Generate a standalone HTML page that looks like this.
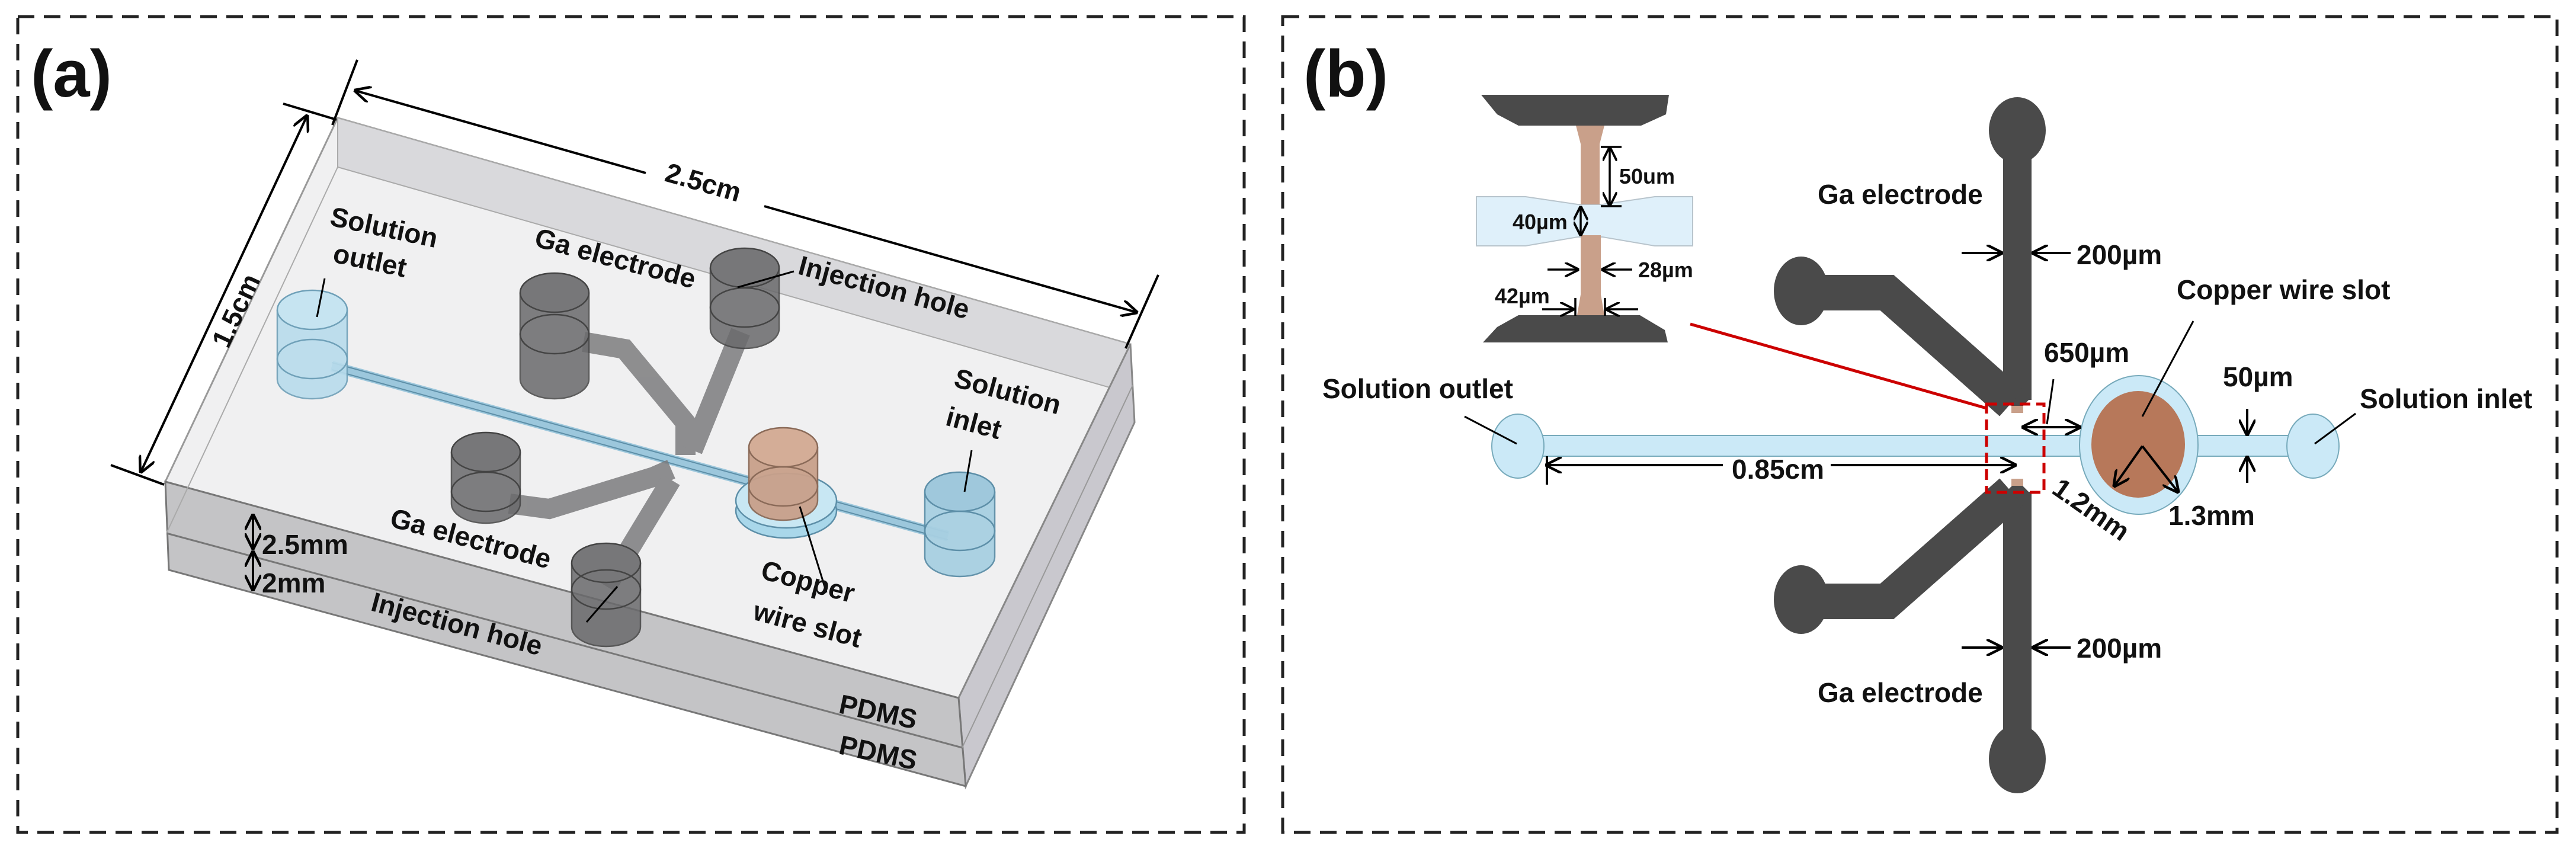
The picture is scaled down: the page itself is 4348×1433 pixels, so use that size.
<!DOCTYPE html>
<html><head><meta charset="utf-8"><style>
html,body{margin:0;padding:0;background:#fff}
svg{display:block}
text{font-family:"Liberation Sans Narrow","Liberation Sans",sans-serif;font-weight:bold;fill:#111}
</style></head><body>
<svg width="4348" height="1433" viewBox="0 0 4348 1433" xmlns="http://www.w3.org/2000/svg">
<defs>
<marker id="ar" viewBox="0 0 10 10" refX="9" refY="5" markerWidth="7" markerHeight="7" orient="auto-start-reverse"><path d="M0,0 L10,5 L0,10" fill="none" stroke="#000" stroke-width="1.6"/></marker>
</defs>
<rect x="30" y="28" width="2070" height="1377" fill="none" stroke="#222" stroke-width="5" stroke-dasharray="28,16"/>
<rect x="2165" y="28" width="2151" height="1377" fill="none" stroke="#222" stroke-width="5" stroke-dasharray="28,16"/>
<text x="52" y="163" font-size="112" font-family="Liberation Sans">(a)</text>
<text x="2200" y="163" font-size="112" font-family="Liberation Sans">(b)</text>

<!-- ===== Panel a box ===== -->
<polygon points="570,199 1908,581 1618,1178 279,813" fill="#f0f0f1" stroke="#999" stroke-width="3"/>
<polygon points="570,199 1908,581 1908,664 570,282" fill="#d9d9dc" stroke="#aaa" stroke-width="2"/>
<polygon points="1908,581 1915,713 1630,1327 1618,1178" fill="#c9c8ce" stroke="#888" stroke-width="3"/>
<polygon points="279,813 1618,1178 1630,1327 285,962" fill="#c4c4c6" stroke="#777" stroke-width="3"/>
<line x1="281" y1="900" x2="1624" y2="1262" stroke="#777" stroke-width="3"/>
<line x1="1912" y1="650" x2="1624" y2="1262" stroke="#999" stroke-width="2"/>
<line x1="570" y1="282" x2="281" y2="900" stroke="#aaa" stroke-width="2"/>
<line x1="570" y1="199" x2="570" y2="282" stroke="#aaa" stroke-width="2"/>

<!-- channel -->
<line x1="560" y1="618" x2="1600" y2="905" stroke="#9cc7dc" stroke-width="18"/>
<line x1="560" y1="612" x2="1600" y2="899" stroke="#5d8fa8" stroke-width="2"/>
<line x1="560" y1="624" x2="1600" y2="911" stroke="#5d8fa8" stroke-width="2"/>

<!-- electrode channels -->
<g fill="none" stroke="#7c7c7e" stroke-width="34" stroke-linejoin="miter" opacity="0.85">
<polyline points="985,577 1054,589 1157,713 1157,768"/>
<polyline points="1250,560 1169,760"/>
<polyline points="860,850 927,859 1103,805 1133,792"/>
<polyline points="1024,990 1133,810"/>
</g>

<!-- cylinders -->
<g stroke-width="2.5">
<path d="M468,523 V640 A59,33 0 0 0 586,640 V523" fill="#b8dcec" stroke="#6fa0b8" opacity="0.9"/>
<ellipse cx="527" cy="523" rx="59" ry="33" fill="#c6e4f1" stroke="#6fa0b8"/>
<ellipse cx="527" cy="606" rx="59" ry="33" fill="none" stroke="#6fa0b8"/>

<path d="M878,494 V640 A58,33 0 0 0 994,640 V494" fill="#6a6a6c" stroke="#444" opacity="0.85"/>
<ellipse cx="936" cy="494" rx="58" ry="33" fill="#777779" stroke="#444"/>
<ellipse cx="936" cy="564" rx="58" ry="33" fill="none" stroke="#444"/>

<path d="M1199,452 V555 A58,33 0 0 0 1315,555 V452" fill="#6a6a6c" stroke="#444" opacity="0.85"/>
<ellipse cx="1257" cy="452" rx="58" ry="33" fill="#777779" stroke="#444"/>
<ellipse cx="1257" cy="519" rx="58" ry="33" fill="none" stroke="#444"/>

<path d="M762,763 V850 A58,33 0 0 0 878,850 V763" fill="#6a6a6c" stroke="#444" opacity="0.85"/>
<ellipse cx="820" cy="763" rx="58" ry="33" fill="#777779" stroke="#444"/>
<ellipse cx="820" cy="830" rx="58" ry="33" fill="none" stroke="#444"/>

<path d="M965,950 V1058 A58,33 0 0 0 1081,1058 V950" fill="#6a6a6c" stroke="#444" opacity="0.85"/>
<ellipse cx="1023" cy="950" rx="58" ry="33" fill="#777779" stroke="#444"/>
<ellipse cx="1023" cy="995" rx="58" ry="33" fill="none" stroke="#444"/>

<ellipse cx="1327" cy="862" rx="85" ry="46" fill="#a9d7ea" stroke="#5d8fa8"/>
<ellipse cx="1327" cy="845" rx="85" ry="46" fill="#c8e7f3" stroke="#5d8fa8"/>
<path d="M1264,755 V845 A58,33 0 0 0 1380,845 V755" fill="#c9a08a" stroke="#8a6a58" opacity="0.95"/>
<ellipse cx="1322" cy="755" rx="58" ry="33" fill="#d4ad97" stroke="#8a6a58"/>
<ellipse cx="1322" cy="821" rx="58" ry="33" fill="none" stroke="#8a6a58"/>

<path d="M1561,830 V940 A59,33 0 0 0 1679,940 V830" fill="#a8d0e2" stroke="#5d8fa8" opacity="0.95"/>
<ellipse cx="1620" cy="830" rx="59" ry="33" fill="#9fc8dc" stroke="#5d8fa8"/>
<ellipse cx="1620" cy="896" rx="59" ry="33" fill="none" stroke="#5d8fa8"/>
</g>

<g stroke="#000" stroke-width="4" fill="none">
<line x1="603" y1="101" x2="561" y2="211"/>
<line x1="1955" y1="464" x2="1900" y2="588"/>
<line x1="600" y1="153" x2="1090" y2="292" marker-start="url(#ar)"/>
<line x1="1290" y1="348" x2="1918" y2="527" marker-end="url(#ar)"/>
<line x1="478" y1="175" x2="568" y2="202"/>
<line x1="187" y1="785" x2="277" y2="818"/>
<line x1="518" y1="196" x2="238" y2="796" marker-start="url(#ar)" marker-end="url(#ar)"/>
<line x1="427" y1="870" x2="427" y2="925" marker-start="url(#ar)" marker-end="url(#ar)"/>
<line x1="427" y1="932" x2="427" y2="995" marker-start="url(#ar)" marker-end="url(#ar)"/>
<line x1="548" y1="470" x2="535" y2="535" stroke-width="3"/>
<line x1="1340" y1="458" x2="1245" y2="485" stroke-width="3"/>
<line x1="1640" y1="760" x2="1628" y2="830" stroke-width="3"/>
<line x1="1395" y1="1000" x2="1350" y2="855" stroke-width="3"/>
<line x1="990" y1="1050" x2="1042" y2="990" stroke-width="3"/>
</g>
<g font-size="46">
<text transform="translate(1120,305) rotate(16)">2.5cm</text>
<text transform="translate(385,590) rotate(-65)">1.5cm</text>
<text transform="translate(555,380) rotate(12)">Solution</text>
<text transform="translate(560,442) rotate(12)">outlet</text>
<text transform="translate(900,415) rotate(15)">Ga electrode</text>
<text transform="translate(1345,462) rotate(15)">Injection hole</text>
<text transform="translate(1608,652) rotate(15)">Solution</text>
<text transform="translate(1594,717) rotate(15)">inlet</text>
<text transform="translate(656,888) rotate(15)">Ga electrode</text>
<text transform="translate(1282,976) rotate(15)">Copper</text>
<text transform="translate(1269,1045) rotate(15)">wire slot</text>
<text transform="translate(624,1030) rotate(15)">Injection hole</text>
<text x="442" y="935">2.5mm</text>
<text x="442" y="1000">2mm</text>
<text transform="translate(1414,1203) rotate(12)">PDMS</text>
<text transform="translate(1414,1272) rotate(12)">PDMS</text>
</g>

<!-- ===== Panel b ===== -->
<polygon points="2500,160 2817,160 2812,193 2770,212 2563,212 2527,193" fill="#4a4a4a"/>
<polygon points="2563,532 2768,532 2810,557 2815,578 2503,578 2527,552" fill="#4a4a4a"/>
<path d="M2492,332 L2575,332 L2663,345 L2705,345 L2793,332 L2857,332 L2857,415 L2793,415 L2705,400 L2663,400 L2575,415 L2492,415 Z" fill="#dff0fa" stroke="#b8c4cc" stroke-width="2"/>
<path d="M2660,212 L2708,212 L2700,243 L2700,345 L2668,345 L2668,243 Z" fill="#c9a08a"/>
<path d="M2668,397 L2702,397 L2702,497 L2708,532 L2662,532 L2668,497 Z" fill="#c9a08a"/>
<g stroke="#000" stroke-width="3.5" fill="none">
<line x1="2717" y1="250" x2="2717" y2="346" marker-start="url(#ar)" marker-end="url(#ar)"/>
<line x1="2702" y1="248" x2="2737" y2="248"/>
<line x1="2702" y1="348" x2="2737" y2="348"/>
<line x1="2668" y1="350" x2="2668" y2="396" marker-start="url(#ar)" marker-end="url(#ar)"/>
<line x1="2612" y1="455" x2="2663" y2="455" marker-end="url(#ar)"/>
<line x1="2755" y1="455" x2="2705" y2="455" marker-end="url(#ar)"/>
<line x1="2603" y1="522" x2="2655" y2="522" marker-end="url(#ar)"/>
<line x1="2765" y1="522" x2="2712" y2="522" marker-end="url(#ar)"/>
<line x1="2659" y1="503" x2="2659" y2="533"/>
<line x1="2709" y1="503" x2="2709" y2="533"/>
</g>
<g font-size="36">
<text x="2733" y="310">50um</text>
<text x="2553" y="387">40µm</text>
<text x="2765" y="468">28µm</text>
<text x="2523" y="512">42µm</text>
</g>
<line x1="2853" y1="547" x2="3353" y2="689" stroke="#c00" stroke-width="5"/>

<rect x="2562" y="735" width="1342" height="35" fill="#cbe9f7" stroke="#7ab" stroke-width="2"/>
<ellipse cx="2562" cy="753" rx="44" ry="54" fill="#cbe9f7" stroke="#7ab" stroke-width="2"/>
<ellipse cx="3904" cy="753" rx="44" ry="54" fill="#cbe9f7" stroke="#7ab" stroke-width="2"/>
<ellipse cx="3610" cy="751" rx="100" ry="117" fill="#cbe9f7" stroke="#7ab" stroke-width="2"/>
<ellipse cx="3609" cy="750" rx="79" ry="90" fill="#b7785a"/>

<g fill="#4a4a4a">
<rect x="3381" y="220" width="48" height="455"/>
<ellipse cx="3405" cy="220" rx="48" ry="56"/>
<polygon points="3381,670 3429,670 3412,688 3398,688"/>
<rect x="3381" y="830" width="48" height="450"/>
<ellipse cx="3405" cy="1281" rx="48" ry="58"/>
<polygon points="3398,818 3412,818 3429,835 3381,835"/>
<ellipse cx="3040" cy="491" rx="46" ry="58"/>
<ellipse cx="3040" cy="1012" rx="46" ry="58"/>
</g>
<g fill="none" stroke="#4a4a4a" stroke-width="60" stroke-linejoin="miter">
<polyline points="3040,494 3185,494 3395,680"/>
<polyline points="3040,1015 3185,1015 3395,830"/>
</g>
<rect x="3395" y="685" width="20" height="12" fill="#c9a08a"/>
<rect x="3395" y="808" width="20" height="12" fill="#c9a08a"/>
<rect x="3353" y="682" width="97" height="149" fill="none" stroke="#c00" stroke-width="5" stroke-dasharray="18,10"/>

<g stroke="#000" stroke-width="4" fill="none">
<line x1="3311" y1="427" x2="3378" y2="427" marker-end="url(#ar)"/>
<line x1="3495" y1="427" x2="3432" y2="427" marker-end="url(#ar)"/>
<line x1="3311" y1="1093" x2="3378" y2="1093" marker-end="url(#ar)"/>
<line x1="3495" y1="1093" x2="3432" y2="1093" marker-end="url(#ar)"/>
<line x1="2611" y1="785" x2="2908" y2="785" marker-start="url(#ar)"/>
<line x1="3090" y1="785" x2="3401" y2="785" marker-end="url(#ar)"/>
<line x1="2611" y1="770" x2="2611" y2="818"/>
<line x1="3415" y1="721" x2="3510" y2="721" marker-start="url(#ar)" marker-end="url(#ar)"/>
<line x1="3466" y1="640" x2="3455" y2="716" stroke-width="3"/>
<line x1="3793" y1="690" x2="3793" y2="733" marker-end="url(#ar)"/>
<line x1="3793" y1="815" x2="3793" y2="772" marker-end="url(#ar)"/>
<line x1="2472" y1="703" x2="2560" y2="749" stroke-width="3"/>
<line x1="3976" y1="698" x2="3907" y2="749" stroke-width="3"/>
<line x1="3702" y1="542" x2="3616" y2="703" stroke-width="3"/>
<line x1="3616" y1="753" x2="3569" y2="820" marker-end="url(#ar)"/>
<line x1="3616" y1="753" x2="3676" y2="830" marker-end="url(#ar)"/>
</g>
<g font-size="46">
<text x="3068" y="344">Ga electrode</text>
<text x="3068" y="1185">Ga electrode</text>
<text x="3505" y="446">200µm</text>
<text x="3505" y="1110">200µm</text>
<text x="3674" y="505">Copper wire slot</text>
<text x="3450" y="611">650µm</text>
<text x="3752" y="652">50µm</text>
<text x="3983" y="689">Solution inlet</text>
<text x="2232" y="672">Solution outlet</text>
<text x="2923" y="808">0.85cm</text>
<text transform="translate(3461,831) rotate(35)">1.2mm</text>
<text x="3660" y="886">1.3mm</text>
</g>
</svg>
</body></html>
